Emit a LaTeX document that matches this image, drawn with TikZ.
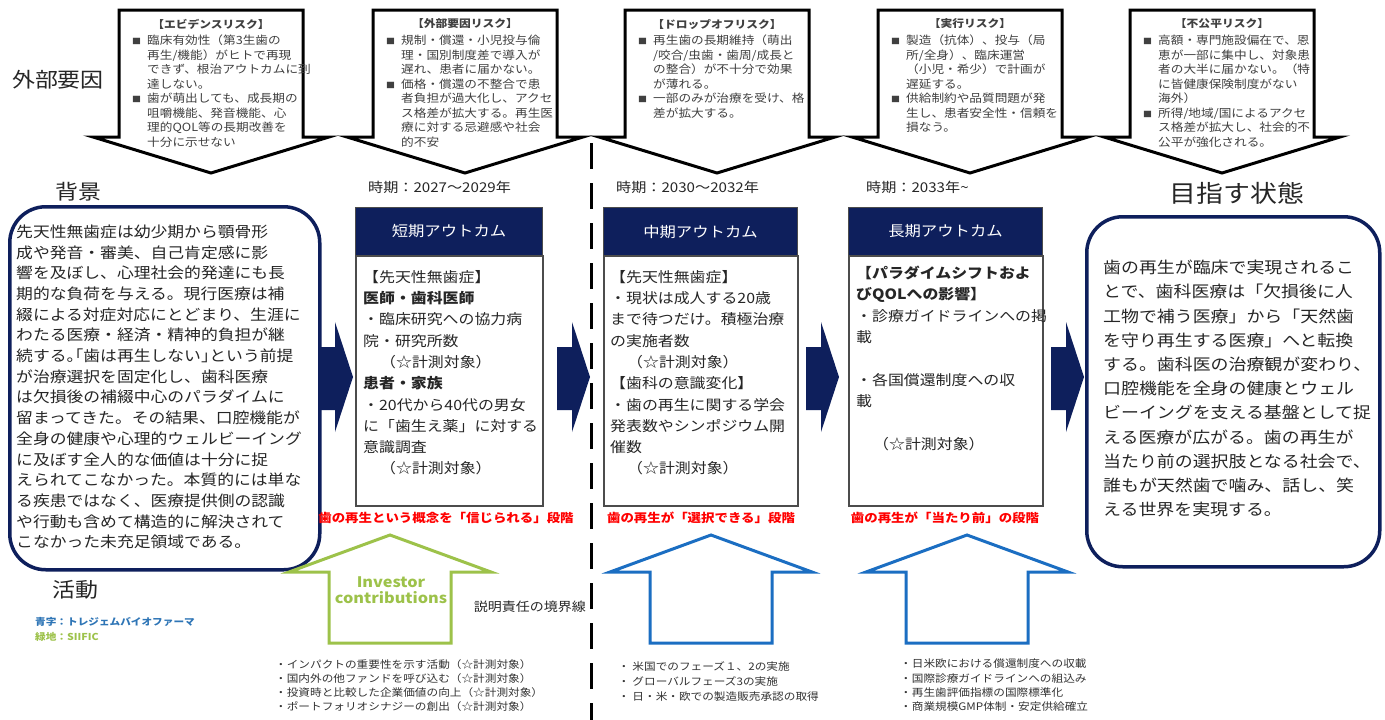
\documentclass[tikz,border=0pt]{standalone}
\usepackage{fontspec}
\setmainfont[FakeStretch=1.12]{Noto Sans CJK JP}
\definecolor{navy}{HTML}{0E1F5C}
\definecolor{abl}{HTML}{1B6EC2}
\definecolor{lbl}{HTML}{2E75B6}
\definecolor{agr}{HTML}{9DC24A}
\definecolor{rtx}{HTML}{404040}
\newcommand\fs[2]{\fontsize{#1}{#2}\selectfont}
\newcommand\hw[1]{{\addfontfeatures{RawFeature=+halt}#1}}
\newcommand\bul{\makebox[15pt][l]{\fs{8}{8}■}}
\newcommand\ind{\hspace*{15pt}}
\newcommand\meas{\hspace*{1.2em}（☆計測対象）}
\tikzset{
 riskshape/.style={draw=black, line width=3pt, fill=white, line join=miter},
 risktitle/.style={inner sep=0, font={\fs{10.5}{12}\bfseries}, text=rtx},
 risktxt/.style={inner sep=0, anchor=north west, align=left, text=rtx, font={\fs{11.3}{14.5}}},
 bigl/.style={inner sep=0, font={\fs{20.5}{24}}, text=black!85},
 roundbox/.style={draw=navy, line width=3.5pt, rounded corners=36pt, fill=white, anchor=north west, inner sep=0},
 band/.style={fill=navy, draw=black!70, line width=1pt, anchor=north west, text=white, font={\fs{14.6}{16}}, inner sep=0},
 bodybox/.style={draw=black!70, line width=1.5pt, fill=white, anchor=north west, inner sep=0},
 otxt/.style={inner sep=0, anchor=north west, align=left, text=black!85, font={\fs{14.2}{21.3}}},
 period/.style={inner sep=0, anchor=west, text=black!85, font={\fs{13.5}{16}}},
 redl/.style={inner sep=0, text=red, font={\fs{12}{14}\bfseries}},
 navyarr/.style={fill=navy},
 uparr/.style={line width=3pt, fill=white, line join=miter},
 listtxt/.style={inner sep=0, anchor=north west, align=left, text=black!80, font={\fs{10.4}{14.2}}},
 legend/.style={inner sep=0, anchor=west, font={\fs{9.5}{11}\bfseries}},
}
\newcommand\riskarrow[4]{%
 \draw[riskshape] ({#2-92},10) -- ({#2+92},10) -- ({#2+92},137) -- ({#2+118},137) -- (#2,173) -- ({#2-118},137) -- ({#2-92},137) -- cycle;
 \node[risktitle] (#1t) at (#2,24) {#3};
 \node[risktxt] (#1b) at ({#2-79},35) {#4};
}
\newcommand\navyarrow[1]{%
 \fill[navyarr] (#1,347) -- ({#1+15},347) -- ({#1+15},322) -- ({#1+33},377) -- ({#1+15},432) -- ({#1+15},410) -- (#1,410) -- cycle;
}
\newcommand\actarrow[2]{%
 \draw[uparr,draw=#2] ({#1-61},643) -- ({#1-61},572) -- ({#1-101},572) -- (#1,535) -- ({#1+101},572) -- ({#1+61},572) -- ({#1+61},643) -- cycle;
}
\begin{document}
\begin{tikzpicture}[x=1pt,y=-1pt]
\useasboundingbox[fill=white] (0,0) rectangle (1385,720);

% boundary line
\coordinate (dtop) at (591,143);
\coordinate (dbot) at (591,720);
\draw[line width=3pt, dash pattern=on 26pt off 14pt] (dtop) -- (dbot);

% risk arrows
\riskarrow{ra}{211}{【エビデンスリスク】}{%
\bul 臨床有効性（第3生歯の\\
\ind 再生/機能）がヒトで再現\\
\ind できず、根治アウトカムに到\\
\ind 達しない。\\
\bul 歯が萌出しても、成長期の\\
\ind 咀嚼機能、発音機能、心\\
\ind 理的QOL等の長期改善を\\
\ind 十分に示せない}
\riskarrow{rb}{465}{【外部要因リスク】}{%
\bul 規制・償還・小児投与倫\\
\ind 理・国別制度差で導入が\\
\ind 遅れ、患者に届かない。\\
\bul 価格・償還の不整合で患\\
\ind 者負担が過大化し、アクセ\\
\ind ス格差が拡大する。再生医\\
\ind 療に対する忌避感や社会\\
\ind 的不安}
\riskarrow{rc}{717}{【ドロップオフリスク】}{%
\bul 再生歯の長期維持（萌出\\
\ind /咬合/虫歯・歯周/成長と\\
\ind の整合）が不十分で効果\\
\ind が薄れる。\\
\bul 一部のみが治療を受け、格\\
\ind 差が拡大する。}
\riskarrow{rd}{970}{【実行リスク】}{%
\bul 製造（抗体）、投与（局\\
\ind 所/全身）、臨床運営\\
\ind （小児・希少）で計画が\\
\ind 遅延する。\\
\bul 供給制約や品質問題が発\\
\ind 生し、患者安全性・信頼を\\
\ind 損なう。}
\riskarrow{re}{1222}{【不公平リスク】}{%
\bul 高額・専門施設偏在で、恩\\
\ind 恵が一部に集中し、対象患\\
\ind 者の大半に届かない。（特\\
\ind に皆健康保険制度がない\\
\ind 海外）\\
\bul 所得/地域/国によるアクセ\\
\ind ス格差が拡大し、社会的不\\
\ind 公平が強化される。}

% big labels
\node[bigl] (lext) at (58,80) {外部要因};
\node[bigl] (lbg) at (78,192) {背景};
\node[bigl] (lact) at (75,590) {活動};
\node[bigl, font={\fs{24}{26}}] (lgoal) at (1237,193) {目指す状態};

% background box
\node[roundbox, minimum width=310pt, minimum height=363pt] (bgbox) at (8,205) {};
\node[inner sep=0, anchor=north west, align=left, text=black!85, font={\fs{15}{20.7}}] (bgtxt) at (16,224.5) {%
先天性無歯症は幼少期から顎骨形\\
成や発音・審美、自己肯定感に影\\
響を及ぼし、心理社会的発達にも長\\
期的な負荷を与える。現行医療は補\\
綴による対症対応にとどまり、生涯に\\
わたる医療・経済・精神的負担が継\\
続する\hw{。「}歯は再生しない\hw{」}という前提\\
が治療選択を固定化し、歯科医療\\
は欠損後の補綴中心のパラダイムに\\
留まってきた。その結果、口腔機能が\\
全身の健康や心理的ウェルビーイング\\
に及ぼす全人的な価値は十分に捉\\
えられてこなかった。本質的には単な\\
る疾患ではなく、医療提供側の認識\\
や行動も含めて構造的に解決されて\\
こなかった未充足領域である。};

% goal box
\node[roundbox, minimum width=293pt, minimum height=350pt] (goalbox) at (1085,215) {};
\node[inner sep=0, anchor=north west, align=left, text=black!85, font={\fs{16}{24.2}}] (goaltxt) at (1103,260) {%
歯の再生が臨床で実現されるこ\\
とで、歯科医療は「欠損後に人\\
工物で補う医療」から「天然歯\\
を守り再生する医療」へと転換\\
する。歯科医の治療観が変わり、\\
口腔機能を全身の健康とウェル\\
ビーイングを支える基盤として捉\\
える医療が広がる。歯の再生が\\
当たり前の選択肢となる社会で、\\
誰もが天然歯で噛み、話し、笑\\
える世界を実現する。};

% navy arrows
\navyarrow{320}
\navyarrow{557}
\navyarrow{806}
\navyarrow{1051}

% periods
\node[period] (p1) at (368,187) {時期：2027～2029年};
\node[period] (p2) at (616,187) {時期：2030～2032年};
\node[period] (p3) at (866,187) {時期：2033年\textasciitilde};

% outcome boxes
\node[bodybox, minimum width=187pt, minimum height=250pt] (sbody) at (355,255) {};
\node[band, minimum width=187pt, minimum height=48pt] (stitle) at (355,207) {短期アウトカム};
\node[otxt] (stxt) at (363,270) {%
【先天性無歯症】\\
\textbf{医師・歯科医師}\\
・臨床研究への協力病\\
院・研究所数\\
\meas\\
\textbf{患者・家族}\\
・20代から40代の男女\\
に「歯生え薬」に対する\\
意識調査\\
\meas};

\node[bodybox, minimum width=194pt, minimum height=250pt] (mbody) at (603,255) {};
\node[band, minimum width=194pt, minimum height=48pt] (mtitle) at (603,207) {中期アウトカム};
\node[otxt] (mtxt) at (610,270) {%
【先天性無歯症】\\
・現状は成人する20歳\\
まで待つだけ。積極治療\\
の実施者数\\
\meas\\
【歯科の意識変化】\\
・歯の再生に関する学会\\
発表数やシンポジウム開\\
催数\\
\meas};

\node[bodybox, minimum width=194pt, minimum height=250pt] (lbody) at (848,255) {};
\node[band, minimum width=194pt, minimum height=48pt] (ltitle) at (848,207) {長期アウトカム};
\node[otxt] (ltxt) at (856,266) {%
\textbf{【パラダイムシフトおよ}\\
\textbf{びQOLへの影響】}\\
・診療ガイドラインへの掲\\
載\\
\mbox{}\\
・各国償還制度への収\\
載\\
\mbox{}\\
\meas};

% red stage labels
\node[redl] (r1) at (446,518) {歯の再生という概念を「信じられる」段階};
\node[redl] (r2) at (701,518) {歯の再生が「選択できる」段階};
\node[redl] (r3) at (945,518) {歯の再生が「当たり前」の段階};

% up arrows
\actarrow{390}{agr}
\actarrow{711}{abl}
\actarrow{967}{abl}
\node[inner sep=0, align=center, text=agr, font={\fs{14.5}{16}\bfseries}] (inv) at (391,590) {Investor\\contributions};

\node[inner sep=0, anchor=east, text=black!85, font={\fs{12.5}{14}}] (acc) at (586,607) {説明責任の境界線};

% activity lists
\node[listtxt] (la) at (275,659) {%
・インパクトの重要性を示す活動（☆計測対象）\\
・国内外の他ファンドを呼び込む（☆計測対象）\\
・投資時と比較した企業価値の向上（☆計測対象）\\
・ポートフォリオシナジーの創出（☆計測対象）};
\node[listtxt, font={\fs{10.4}{15}}] (lb) at (618,661) {%
・ 米国でのフェーズ１、2の実施\\
・ グローバルフェーズ3の実施\\
・ 日・米・欧での製造販売承認の取得};
\node[listtxt] (lc) at (900,659) {%
・日米欧における償還制度への収載\\
・国際診療ガイドラインへの組込み\\
・再生歯評価指標の国際標準化\\
・商業規模GMP体制・安定供給確立};

% legend
\node[legend, text=lbl] (lg1) at (35,622) {青字：トレジェムバイオファーマ};
\node[legend, text=agr] (lg2) at (35,637) {緑地：SIIFIC};
\end{tikzpicture}
\end{document}
